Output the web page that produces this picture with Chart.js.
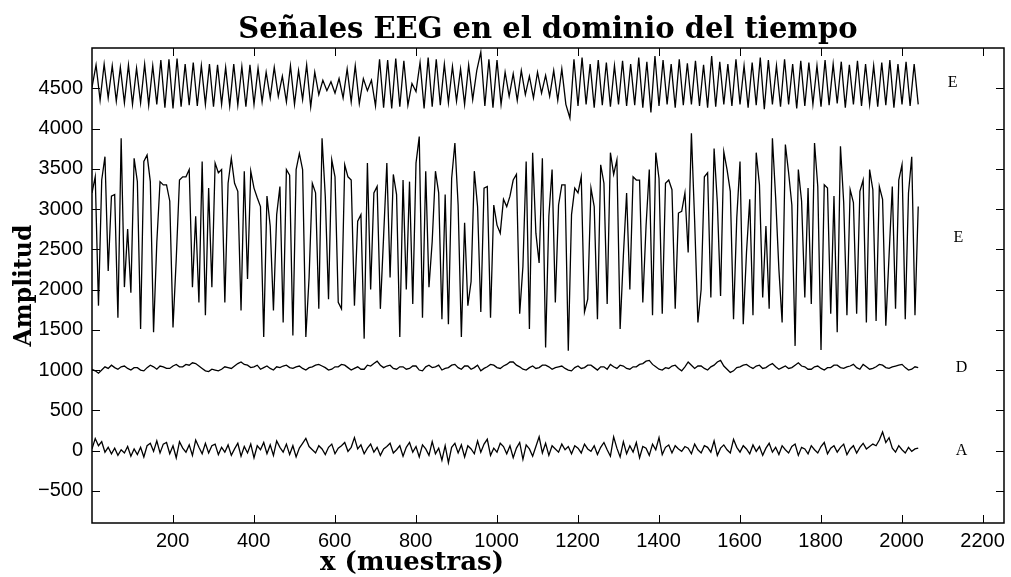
<!DOCTYPE html>
<html>
<head>
<meta charset="utf-8">
<script src="https://cdn.jsdelivr.net/npm/chart.js@4.4.1/dist/chart.umd.min.js"></script>
<style>
  html, body { margin: 0; padding: 0; background: #fff; }
  #wrap { width: 1011px; height: 577px; }
</style>
</head>
<body>
<div id="wrap"><canvas id="eegChart" width="1011" height="577"></canvas></div>
<script>
// ejes
const xTicks = [200, 400, 600, 800, 1000, 1200, 1400, 1600, 1800, 2000, 2200];
const yTicks = [-500, 0, 500, 1000, 1500, 2000, 2500, 3000, 3500, 4000, 4500];

// nombre de cada serie y donde va su etiqueta (en unidades de datos)
const signalNames = ["E", "E", "D", "A"];
const labelX = [2126, 2140, 2148, 2148];
const labelY = [4570, 2640, 1025, 0];

const steps = [10, 8, 8, 8];

// E (arriba)
const topE = [
  4510,4790,4350,4800,4380,4780,4340,4760,4320,4790,
  4300,4750,4320,4800,4290,4780,4300,4850,4260,4860,
  4250,4870,4270,4800,4290,4820,4280,4780,4300,4800,
  4270,4790,4300,4760,4280,4800,4290,4770,4270,4790,
  4300,4750,4330,4700,4380,4760,4400,4650,4330,4780,
  4300,4720,4360,4790,4270,4700,4420,4600,4470,4580,
  4440,4620,4380,4740,4330,4780,4310,4620,4470,4600,
  4280,4860,4260,4850,4250,4870,4270,4840,4290,4560,
  4460,4820,4250,4880,4270,4860,4290,4800,4320,4770,
  4340,4740,4300,4790,4360,4720,4950,4280,4860,4260,
  4850,4300,4700,4400,4680,4350,4720,4420,4650,4380,
  4700,4440,4660,4400,4720,4350,4740,4300,4130,4860,
  4280,4880,4300,4800,4260,4850,4290,4820,4270,4780,
  4300,4840,4280,4800,4290,4880,4260,4830,4200,4900,
  4280,4850,4300,4800,4260,4860,4290,4810,4300,4840,
  4280,4790,4260,4900,4270,4830,4300,4800,4280,4860,
  4300,4780,4260,4820,4290,4880,4240,4850,4300,4780,
  4270,4860,4300,4800,4250,4840,4280,4820,4300,4780,
  4270,4850,4290,4800,4310,4830,4260,4790,4300,4840,
  4280,4800,4300,4780,4270,4820,4290,4850,4260,4800,
  4300,4830,4280,4800,4300
];

// E (medio)
const midE = [
  3200,3400,1800,3360,3650,2230,3160,3180,1650,3880,2030,2750,1960,3630,3340,1510,
  3590,3670,3340,1470,2580,3340,3300,3300,3100,1530,2380,3360,3400,3400,3490,2030,
  2910,1840,3590,1680,3260,2030,3570,3450,3490,1840,3320,3630,3320,3220,1740,3470,
  2130,3470,3260,3140,3030,1410,3160,2790,1740,2930,3280,1590,3490,3420,1430,3490,
  3690,3490,1410,2150,3320,3200,1760,3880,3160,1880,3610,3400,1840,1760,3550,3400,
  3360,1800,2850,2930,1390,3570,2000,3200,3280,1760,2660,3570,2150,3430,3180,1410,
  3360,2000,3340,1820,3570,3900,1650,3470,2030,2600,3470,3200,1630,3180,1570,3380,
  3820,3050,1410,2830,1800,2100,3470,3030,1720,3260,3280,1650,3050,2800,2700,
  3120,3030,3160,3360,3430,1700,2290,3590,1510,3700,2700,2330,3630,1280,2910,3490,
  1840,3050,3300,3300,1240,2930,3260,3200,3400,1720,1880,3260,3030,1630,3550,3320,
  1820,3700,3430,3610,1510,2420,3200,2000,3400,3360,3360,1840,2790,3490,1680,3700,
  3380,1700,3320,3360,3240,1760,2950,2970,3200,2460,3940,2850,1590,2000,3400,
  3450,1900,3750,3080,1920,3710,3490,3220,1630,2890,3590,1570,2460,3120,1680,3700,
  3300,1900,2790,1760,3880,3140,2250,1590,3800,3450,3050,1300,3490,3100,1900,3260,
  1820,3820,3280,1250,3300,3260,1700,3160,1470,3780,3080,1680,3240,3080,1700,3220,
  3360,1590,3490,3240,1610,3280,3120,1550,2420,3280,1760,3360,3550,1630,3200,3650,
  1680,3030
];

// D
const sigD = [
  1010,990,960,1000,1040,1020,1060,1030,1010,1040,1050,1020,1000,1030,1030,1000,
  990,1030,1060,1040,1010,1050,1040,1020,1020,1050,1070,1040,1040,1070,1060,1090,
  1080,1050,1020,990,980,1010,1000,990,1010,1040,1030,1020,1050,1080,1100,1070,
  1060,1030,1040,1060,1010,1030,1050,1020,1000,1040,1030,1050,1060,1030,1020,1040,
  1050,1020,1000,1030,1040,1060,1070,1050,1030,1000,1010,1040,1040,1070,1060,1030,
  1000,1020,1040,1010,1010,1060,1050,1080,1110,1060,1030,1050,1060,1020,1010,1040,
  1040,1010,1020,1050,1050,1000,990,1040,1060,1030,1040,1060,1000,1020,1030,1060,
  1070,1030,1010,1050,1050,1010,1030,1060,990,1020,1040,1070,1060,1030,1020,1050,
  1070,1100,1100,1060,1040,1010,1000,1030,1050,1020,1030,1060,1060,1040,1010,1030,
  1040,1050,1020,1000,990,1030,1050,1020,1030,1060,1060,1030,1000,1040,1040,1010,
  1070,1040,1020,1060,1050,1020,1010,1040,1040,1070,1080,1110,1120,1070,1040,1010,
  1000,1030,1020,1050,1060,1020,990,1040,1100,1060,1020,1050,1050,1020,1000,1040,
  1060,1100,1120,1050,1010,970,990,1030,1040,1060,1070,1040,1020,1050,1060,1020,
  1030,1060,1080,1040,1010,1030,1050,1020,1030,1060,1090,1050,1040,1010,1010,1040,
  1050,1020,1000,1030,1030,1060,1060,1030,1020,1040,1050,1070,1030,1010,1070,1040,
  1010,1020,1040,1070,1060,1030,1020,1040,1050,1060,1070,1030,1000,1010,1040,1030
];

// A
const sigA = [
  20,150,60,110,-20,40,-40,30,-60,10,-30,50,-70,20,-50,40,
  -80,60,90,-10,120,-30,80,100,-40,60,-90,110,30,-20,70,-60,
  130,40,-40,90,-30,60,80,-50,40,-20,70,-60,20,90,-70,50,
  -30,80,-90,60,10,100,-40,70,-60,120,40,-20,80,-50,60,-80,
  30,90,150,50,10,-30,60,20,-50,40,80,-40,30,60,100,-10,
  40,160,20,70,-40,30,80,-20,40,-60,20,50,90,-30,10,60,
  -70,40,100,-20,50,-80,70,20,-60,110,-40,30,-120,60,-150,40,
  90,-30,70,-80,60,20,-40,120,-20,80,140,-60,30,-20,90,50,
  -40,60,-90,30,100,-110,70,20,-70,50,170,-30,90,-60,60,20,
  -20,80,10,50,-40,60,30,-30,80,20,-10,60,-50,40,100,10,
  -70,170,30,-80,110,-40,60,-20,100,-90,50,30,-60,80,10,160,
  -50,40,70,-30,60,20,-10,50,30,-40,80,10,-30,60,40,-20,
  120,-60,30,70,10,-30,140,40,-20,60,20,-40,70,-10,50,-60,
  30,90,-20,40,-50,60,10,-30,50,80,-60,40,20,-40,60,10,
  -30,50,100,-40,30,60,-20,40,80,-50,20,60,-30,40,90,20,
  50,80,60,130,230,100,160,30,-20,60,10,-30,40,-10,20,30
];

const series = [topE, midE, sigD, sigA];

function toPoints(vals, step) {
  return vals.map((v, i) => ({ x: 1 + i * step, y: v }));
}

const serif = '"DejaVu Serif", serif';

// caja tipo matlab: marco completo, ticks hacia dentro, titulos y letras
const matlabBox = {
  id: 'matlabBox',
  afterDraw(chart) {
    const { ctx, chartArea: a, scales } = chart;
    const x = scales.x, y = scales.y;
    ctx.save();
    ctx.strokeStyle = '#000';
    ctx.lineWidth = 1.5;
    ctx.strokeRect(a.left, a.top, a.right - a.left, a.bottom - a.top);

    ctx.lineWidth = 1;
    ctx.beginPath();
    const tl = 8;
    xTicks.forEach(v => {
      const px = Math.round(x.getPixelForValue(v)) + 0.5;
      ctx.moveTo(px, a.bottom); ctx.lineTo(px, a.bottom - tl);
      ctx.moveTo(px, a.top); ctx.lineTo(px, a.top + tl);
    });
    yTicks.forEach(v => {
      const py = Math.round(y.getPixelForValue(v)) + 0.5;
      ctx.moveTo(a.left, py); ctx.lineTo(a.left + tl, py);
      ctx.moveTo(a.right, py); ctx.lineTo(a.right - tl, py);
    });
    ctx.stroke();

    ctx.fillStyle = '#000';
    ctx.font = '16px "Liberation Serif"';
    ctx.textAlign = 'center';
    ctx.textBaseline = 'middle';
    signalNames.forEach((s, i) => {
      ctx.fillText(s, x.getPixelForValue(labelX[i]), y.getPixelForValue(labelY[i]));
    });

    ctx.textBaseline = 'alphabetic';
    ctx.font = 'bold 29px ' + serif;
    ctx.fillText('Señales EEG en el dominio del tiempo', (a.left + a.right) / 2, 38);

    ctx.font = 'bold 26px ' + serif;
    ctx.fillText('x (muestras)', 412, 570);

    ctx.translate(31, (a.top + a.bottom) / 2);
    ctx.rotate(-Math.PI / 2);
    ctx.font = 'bold 23.5px ' + serif;
    ctx.fillText('Amplitud', 0, 0);
    ctx.restore();
  }
};

Chart.defaults.color = '#000';
Chart.defaults.font.family = '"Liberation Sans", Arial, sans-serif';

new Chart(document.getElementById('eegChart'), {
  type: 'line',
  data: {
    datasets: series.map((vals, i) => ({
      label: signalNames[i],
      data: toPoints(vals, steps[i]),
      borderColor: '#000',
      borderWidth: 1.3,
      pointRadius: 0,
      tension: 0,
      fill: false
    }))
  },
  options: {
    responsive: false,
    animation: false,
    devicePixelRatio: 1,
    layout: { padding: { left: 0, right: 6, top: 48, bottom: 0 } },
    plugins: {
      legend: { display: false },
      title: { display: false },
      tooltip: { enabled: false }
    },
    scales: {
      x: {
        type: 'linear',
        min: 1,
        max: 2252.8,
        grid: { display: false, drawTicks: false },
        border: { display: false },
        ticks: { font: { size: 20 }, padding: 6, maxRotation: 0, callback: v => String(v) },
        afterBuildTicks: s => { s.ticks = xTicks.map(v => ({ value: v })); },
        afterFit: s => { s.height = 54; }
      },
      y: {
        type: 'linear',
        min: -900,
        max: 5000,
        grid: { display: false, drawTicks: false },
        border: { display: false },
        ticks: {
          font: { size: 20 },
          padding: 9,
          callback: v => v < 0 ? '\u2212' + Math.abs(v) : String(v)
        },
        afterBuildTicks: s => { s.ticks = yTicks.map(v => ({ value: v })); },
        afterFit: s => { s.width = 92; }
      }
    }
  },
  plugins: [matlabBox]
});
</script>
</body>
</html>
